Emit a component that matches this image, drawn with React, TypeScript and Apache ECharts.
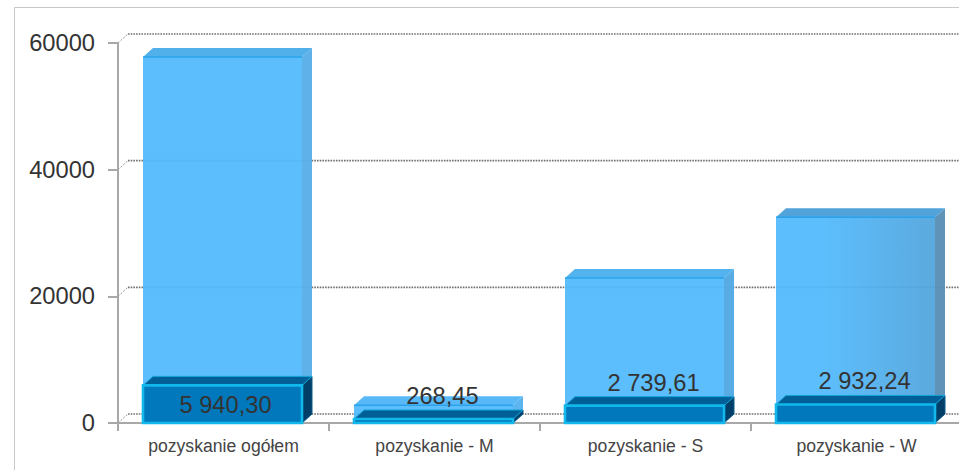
import React, { useEffect, useRef } from "react";
import * as echarts from "echarts";

const categories = ["pozyskanie ogółem", "pozyskanie - M", "pozyskanie - S", "pozyskanie - W"];
const totalValues = [57800, 2800, 22900, 32500];
const partValues = [5940.3, 268.45, 2739.61, 2932.24];
const partLabels = ["5 940,30", "268,45", "2 739,61", "2 932,24"];
const yTicks = [0, 20000, 40000, 60000];

const DX = 10;
const DY = -9;
const BAR_W = 159;
const MIN_BAR_H = 4;
const PLOT_RIGHT = 959;
const FONT = '"Liberation Sans", Arial, sans-serif';

const lightRightColors = ["#58aee8", "#55b2ee", "#52a8e2", "#5a8fb5"];
const lightFrontEnd = ["#50b9fc", "#50b9fc", "#50b9fc", "#4fa3dc"];
const lightTopColors = ["#4aace8", "#52b6f8", "#4cb0ee", "#4a9fd8"];

function poly(points: number[][], fill: any, stroke?: string, lineWidth = 1, opacity = 1) {
  return {
    type: "polygon",
    shape: { points },
    style: { fill, stroke: stroke ?? "none", lineWidth, opacity },
    silent: true,
  };
}

function boxPoints(x0: number, x1: number, yTop: number, yBase: number) {
  return {
    front: [[x0, yTop], [x1, yTop], [x1, yBase], [x0, yBase]],
    top: [[x0, yTop], [x1, yTop], [x1 + DX, yTop + DY], [x0 + DX, yTop + DY]],
    right: [[x1, yTop], [x1 + DX, yTop + DY], [x1 + DX, yBase + DY], [x1, yBase]],
  };
}

const gridSeries = {
  type: "custom",
  z: 1,
  silent: true,
  data: yTicks.map((v) => [0, v]),
  encode: { x: 0, y: 1 },
  renderItem: (_p: any, api: any) => {
    const base = api.coord([0, api.value(1)]);
    const left = base[0] - api.size([1, 0])[0] / 2;
    const y = base[1];
    const dotted = { stroke: "#707070", lineWidth: 1.6, lineDash: [1.6, 1.1] };
    return {
      type: "group",
      children: [
        { type: "line", shape: { x1: left + DX, y1: y + DY, x2: PLOT_RIGHT, y2: y + DY }, style: dotted, silent: true },
        { type: "line", shape: { x1: left, y1: y, x2: left + DX, y2: y + DY }, style: { stroke: "#999", lineWidth: 1, lineDash: [2, 1.5] }, silent: true },
      ],
    };
  },
};

const totalSeries = {
  type: "custom",
  z: 2,
  silent: true,
  data: categories.map((c, i) => [i, totalValues[i]]),
  encode: { x: 0, y: 1 },
  renderItem: (p: any, api: any) => {
    const i = p.dataIndex;
    const t = api.coord([api.value(0), api.value(1)]);
    const b = api.coord([api.value(0), 0]);
    const x0 = t[0] - 1 - BAR_W / 2;
    const x1 = x0 + BAR_W;
    const s = boxPoints(x0, x1, t[1], b[1]);
    const frontFill = new echarts.graphic.LinearGradient(0, 0, 1, 0, [
      { offset: 0, color: "#50b9fc" },
      { offset: 0.3, color: "#50b9fc" },
      { offset: 1, color: lightFrontEnd[i] },
    ]);
    return {
      type: "group",
      children: [
        poly(s.right, lightRightColors[i], undefined, 1, 0.96),
        poly(s.top, lightTopColors[i], undefined, 1, 0.96),
        poly(s.front, frontFill, undefined, 1, 0.93),
        { type: "line", shape: { x1: x0, y1: t[1], x2: x1, y2: t[1] }, style: { stroke: "#2ba3ec", lineWidth: 1.5 }, silent: true },
      ],
    };
  },
};

const partSeries = {
  type: "custom",
  z: 3,
  silent: true,
  data: categories.map((c, i) => [i, partValues[i]]),
  encode: { x: 0, y: 1 },
  renderItem: (p: any, api: any) => {
    const i = p.dataIndex;
    const t = api.coord([api.value(0), api.value(1)]);
    const b = api.coord([api.value(0), 0]);
    const x0 = t[0] - 1 - BAR_W / 2;
    const x1 = x0 + BAR_W;
    const yTop = Math.min(t[1], b[1] - MIN_BAR_H);
    const s = boxPoints(x0, x1, yTop, b[1]);
    const inside = api.value(1) > 5000;
    const labelX = t[0] + (inside ? 2 : 8);
    const labelY = inside ? yTop + 20 : yTop - 23;
    return {
      type: "group",
      children: [
        poly(s.right, "#023f68", "#0a5c8c", 1),
        poly(s.top, "#005f96", "#12a5d8", 1),
        poly(s.front, "#0078bb", "#12b8ea", 2.6),
        {
          type: "text",
          silent: true,
          style: {
            x: labelX,
            y: labelY,
            text: partLabels[i],
            fill: "#333",
            font: `23.7px ${FONT}`,
            align: "center",
            verticalAlign: "middle",
          },
        },
      ],
    };
  },
};

export default function App() {
  const ref = useRef<HTMLDivElement>(null);
  useEffect(() => {
    document.body.style.margin = "0";
    document.body.style.overflow = "hidden";
    const chart = echarts.init(ref.current!, undefined, { renderer: "svg" });
    chart.setOption({
      animation: false,
      backgroundColor: "#fff",
      textStyle: { fontFamily: FONT },
      grid: { left: 118, top: 43, width: 844, height: 380, outerBoundsMode: "none" },
      graphic: [
        { type: "line", shape: { x1: 14.5, y1: 7.5, x2: 959, y2: 7.5 }, style: { stroke: "#c8c8c8", lineWidth: 1 }, silent: true },
        { type: "line", shape: { x1: 14.5, y1: 7.5, x2: 14.5, y2: 470 }, style: { stroke: "#c8c8c8", lineWidth: 1 }, silent: true },
      ],
      xAxis: {
        type: "category",
        data: categories,
        axisLine: { lineStyle: { color: "#a8a8a8", width: 2 } },
        axisTick: { show: true, length: 8, lineStyle: { color: "#a8a8a8", width: 2 } },
        axisLabel: { color: "#444", fontSize: 17.6, margin: 14, fontFamily: FONT, interval: 0 },
        z: 2,
      },
      yAxis: {
        type: "value",
        min: 0,
        max: 60000,
        interval: 20000,
        axisLine: { show: true, lineStyle: { color: "#a8a8a8", width: 2 } },
        axisTick: { show: true, length: 10, lineStyle: { color: "#a8a8a8", width: 2 } },
        axisLabel: { color: "#333", fontSize: 23.7, margin: 23, fontFamily: FONT, formatter: (v: number) => String(v) },
        splitLine: { show: false },
      },
      series: [gridSeries, totalSeries, partSeries],
    });
    return () => chart.dispose();
  }, []);
  return <div ref={ref} style={{ position: "fixed", left: 0, top: 0, width: 959, height: 470 }} />;
}
